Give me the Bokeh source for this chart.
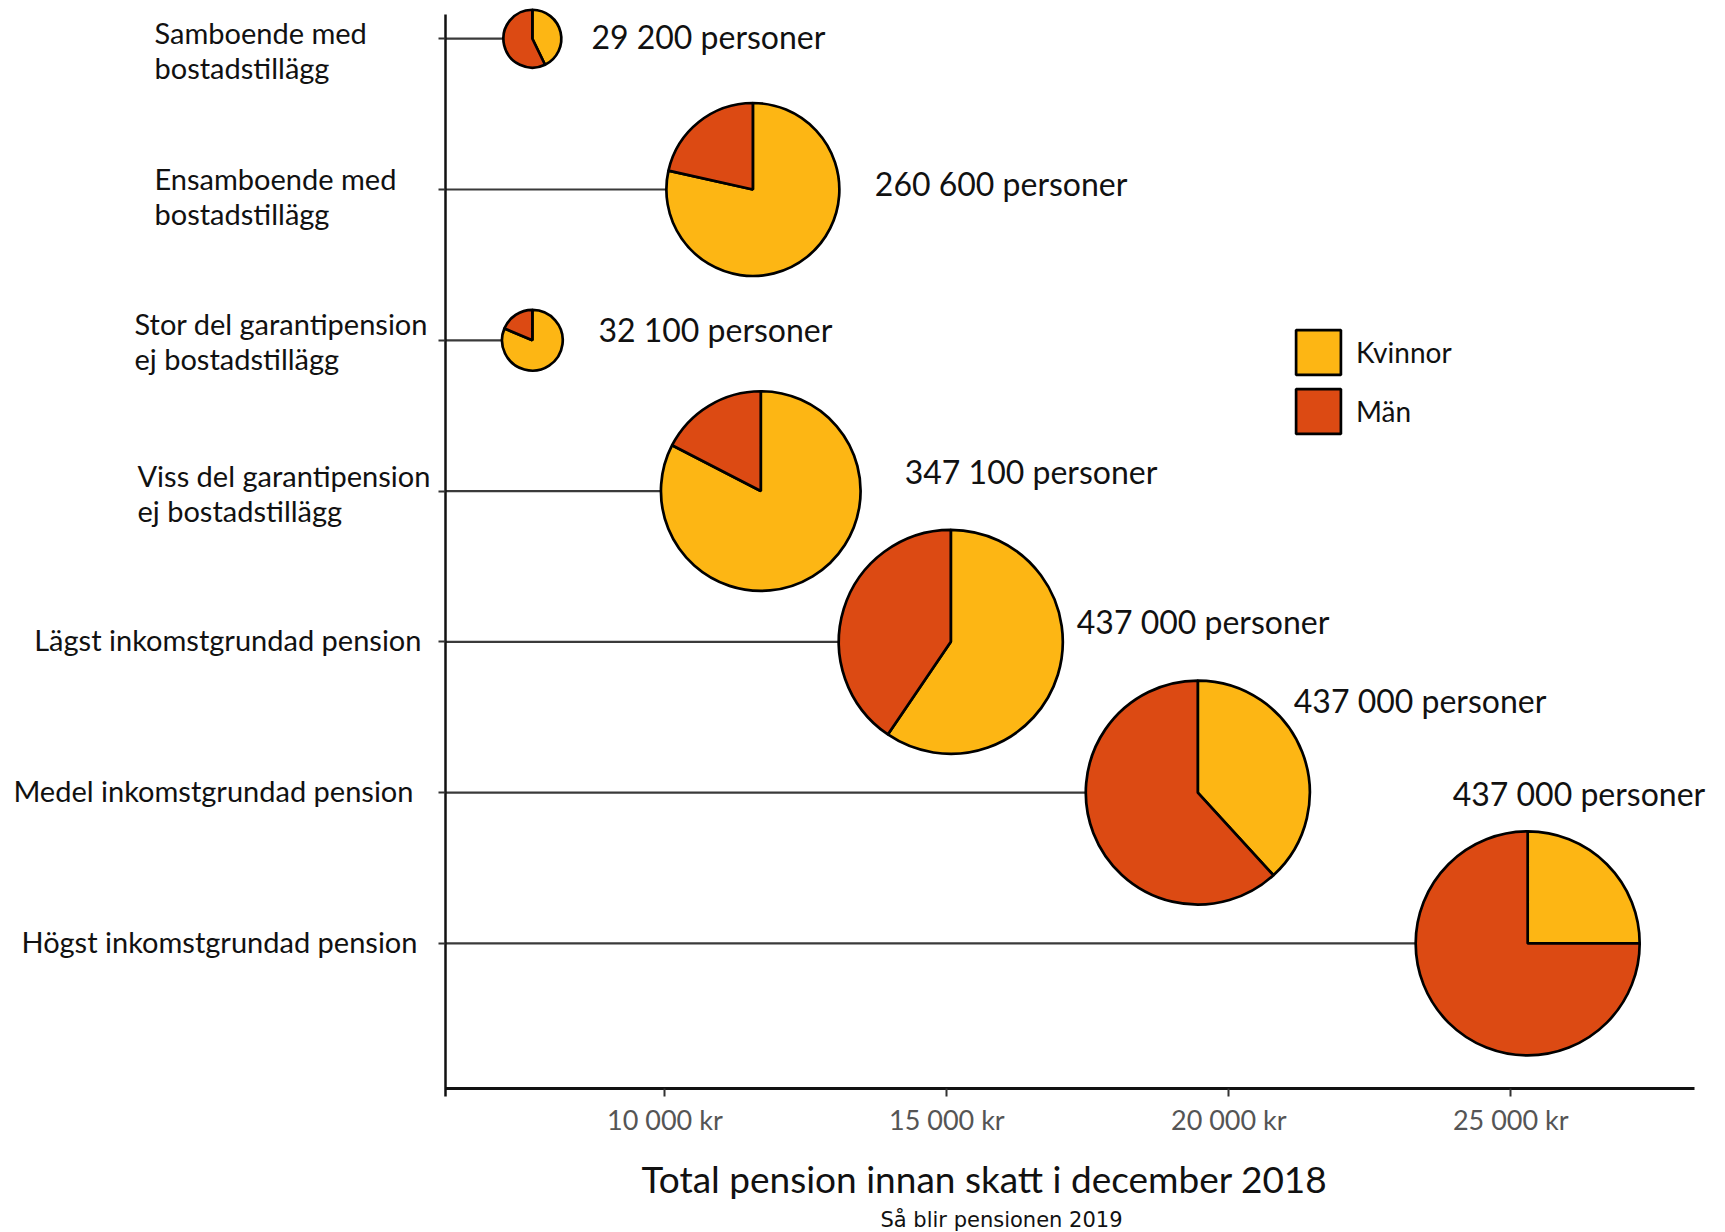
import math
from bokeh.plotting import figure
from bokeh.models import (ColumnDataSource, FixedTicker, Label, LabelSet, Legend,
                          LegendItem, Range1d)
from bokeh.core.properties import value
from bokeh.embed import file_html
from bokeh.resources import INLINE

# ---------------- data ----------------
categories = [
    "Samboende med\nbostadstillägg",
    "Ensamboende med\nbostadstillägg",
    "Stor del garantipension\nej bostadstillägg",
    "Viss del garantipension\nej bostadstillägg",
    "Lägst inkomstgrundad pension",
    "Medel inkomstgrundad pension",
    "Högst inkomstgrundad pension",
]
pension_kr = [7650, 11560, 7650, 11700, 15070, 19450, 25300]
personer = [29200, 260600, 32100, 347100, 437000, 437000, 437000]
andel_kvinnor = [0.428, 0.785, 0.814, 0.826, 0.595, 0.382, 0.250]
series = ["Kvinnor", "Män"]
x_ticks = [10000, 15000, 20000, 25000]
x_title = "Total pension innan skatt i december 2018"
sub_title = "Så blir pensionen 2019"

# ---------------- styles / layout ----------------
FONT = "Lato"
YELLOW = "#FDB614"
RED = "#DC4A13"
W, H = 1725, 1232
# visible view (whole canvas) and axis extents, in data units
VIEW_X = (-1782, 28808)
VIEW_Y = (-0.9174, 7.2535)
AX_X = (6109, 28258)
AX_Y = (0.038, 7.161)
AX_Y_LOW_EXT = 0.053
R_MAX = 112.0  # px radius of the largest pie
cat_x_off = [-291, -291, -311, -308, -24, -32, -28]
cat_align = ["left", "left", "left", "left", "right", "right", "right"]
cat_y_off = [-11, -6.5, -1, -2, 2, 2, 2]
lab_x_off = [59, 122, 66, 144, 126, 96, -75]
lab_y_off = [2, 6, 11, 20, 20, 92, 150]

n = len(categories)
ypos = [n - i for i in range(n)]


def fmt(v):
    return f"{v:,}".replace(",", " ")


radius = [R_MAX * math.sqrt(c / max(personer)) for c in personer]
k_start = [math.pi / 2 - 2 * math.pi * f for f in andel_kvinnor]
k_end = [math.pi / 2] * n
m_start = [math.pi / 2] * n
m_end = [math.pi / 2 + 2 * math.pi * (1 - f) for f in andel_kvinnor]

src = ColumnDataSource(dict(
    x=pension_kr, y=ypos, r=radius,
    ks=k_start, ke=k_end, ms=m_start, me=m_end,
    lab=[f"{fmt(c)} personer" for c in personer],
    lxo=lab_x_off, lyo=lab_y_off,
))

p = figure(width=W, height=H, x_range=Range1d(*VIEW_X),
           y_range=Range1d(*VIEW_Y), output_backend="svg",
           toolbar_location=None, min_border=0)
p.outline_line_color = None
p.xgrid.visible = False
p.ygrid.visible = False
p.background_fill_color = "white"
p.border_fill_color = "white"

# x axis (placed at the bottom of the axis box)
xa = p.xaxis[0]
xa.fixed_location = AX_Y[0]
xa.bounds = AX_X
xa.ticker = FixedTicker(ticks=x_ticks)
xa.major_label_overrides = {t: f"{fmt(t)} kr" for t in x_ticks}
xa.minor_tick_line_color = None
xa.axis_line_width = 3
xa.axis_line_color = "#111111"
xa.major_tick_line_color = "#333333"
xa.major_tick_line_width = 2
xa.major_tick_in = 0
xa.major_tick_out = 8
xa.major_label_standoff = 7
xa.major_label_text_font = FONT
xa.major_label_text_font_size = "27px"
xa.major_label_text_color = "#555555"

# y axis (placed at the left of the axis box)
ya = p.yaxis[0]
ya.fixed_location = AX_X[0]
ya.bounds = (AX_Y[0] - AX_Y_LOW_EXT, AX_Y[1])
ya.ticker = FixedTicker(ticks=ypos)
ya.major_label_overrides = {y: "" for y in ypos}
ya.major_label_text_font_size = "0px"
ya.minor_tick_line_color = None
ya.axis_line_width = 2.5
ya.axis_line_color = "#111111"
ya.major_tick_line_color = "#333333"
ya.major_tick_line_width = 2
ya.major_tick_in = 0
ya.major_tick_out = 7

# connectors
p.segment(x0=AX_X[0], y0="y", x1="x", y1="y", source=src,
          line_color="#3a3a3a", line_width=2.2)

# pies
rk = p.wedge(x="x", y="y", radius="r", radius_units="screen",
             start_angle="ks", end_angle="ke", source=src,
             fill_color=YELLOW, line_color="black", line_width=2.7)
rm = p.wedge(x="x", y="y", radius="r", radius_units="screen",
             start_angle="ms", end_angle="me", source=src,
             fill_color=RED, line_color="black", line_width=2.7)

# count labels
p.add_layout(LabelSet(x="x", y="y", text="lab", source=src,
                      x_offset="lxo", y_offset="lyo",
                      text_font=value(FONT), text_font_size="32px",
                      text_color="#111111", text_align="left",
                      text_baseline="middle"))

# category labels
for i, c in enumerate(categories):
    p.add_layout(Label(x=AX_X[0], y=ypos[i], text=c,
                       x_offset=cat_x_off[i], y_offset=cat_y_off[i],
                       text_font=FONT, text_font_size="29px",
                       text_color="#111111", text_align=cat_align[i],
                       text_baseline="middle", text_line_height=1.0))

# legend
legend = Legend(items=[LegendItem(label=series[0], renderers=[rk]),
                       LegendItem(label=series[1], renderers=[rm])],
                location=(1290, 793), glyph_width=56, glyph_height=56,
                label_text_font=FONT, label_text_font_size="28px",
                label_text_color="#111111", label_standoff=10, spacing=3,
                padding=0, margin=0, border_line_color=None,
                background_fill_alpha=0)
p.add_layout(legend)

# titles below the axis
p.add_layout(Label(x=984, y=54, x_units="screen", y_units="screen",
                   text=x_title, text_font=FONT, text_font_size="37px",
                   text_color="#111111", text_align="center",
                   text_baseline="middle"))
p.add_layout(Label(x=1001, y=13, x_units="screen", y_units="screen",
                   text=sub_title, text_font="DejaVu Sans", text_font_size="21px",
                   text_color="#111111", text_align="center",
                   text_baseline="middle"))

open("out.html", "w").write(file_html(p, INLINE))
